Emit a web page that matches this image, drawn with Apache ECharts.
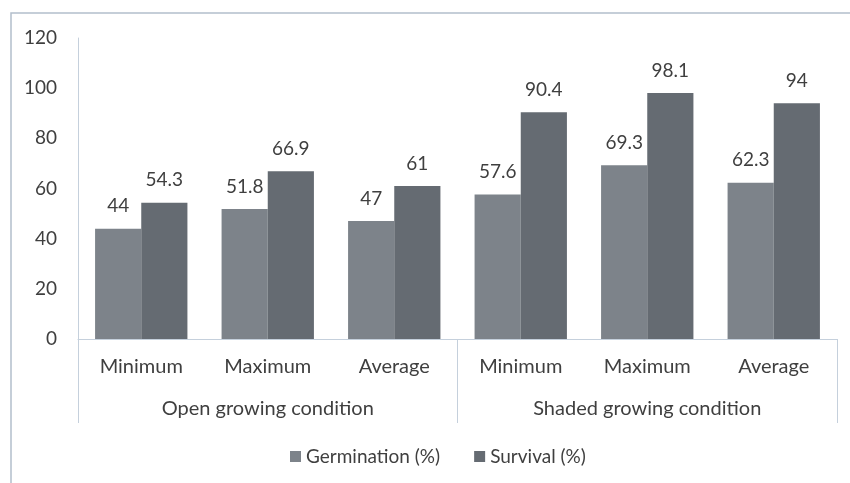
<!DOCTYPE html>
<html>
<head>
<meta charset="utf-8">
<style>
  html, body { margin: 0; padding: 0; background: #fff; }
  #chart { width: 850px; height: 483px; }
</style>
<script src="https://cdn.jsdelivr.net/npm/echarts@6/dist/echarts.min.js"></script>
</head>
<body>
<div id="chart"></div>
<script>
// Measurement labels and their growing-condition groups
const measures = ['Minimum', 'Maximum', 'Average', 'Minimum', 'Maximum', 'Average'];
const conditions = ['Open growing condition', 'Shaded growing condition'];

// Percentages per measure (open then shaded)
const germination = [44, 51.8, 47, 57.6, 69.3, 62.3];
const survival = [54.3, 66.9, 61, 90.4, 98.1, 94];

const yTicks = { min: 0, max: 120, interval: 20 };

const FONT = 'Lato';
const TEXT = '#3f3f3f';
const AXIS = '#c5d0dc';

const chart = echarts.init(document.getElementById('chart'), null, { renderer: 'canvas' });

const barLabel = {
  show: true,
  position: 'top',
  distance: 13,
  fontFamily: FONT,
  fontSize: 19,
  color: TEXT
};

chart.setOption({
  animation: false,
  backgroundColor: '#ffffff',
  graphic: [{
    type: 'rect',
    shape: { x: 11, y: 13, width: 900, height: 520 },
    style: { fill: 'none', stroke: '#b3bfcc', lineWidth: 1.5 },
    silent: true
  }],
  grid: { left: 78, right: 13, top: 38, bottom: 144, containLabel: false },
  legend: {
    top: 442,
    left: 285,
    itemWidth: 11,
    itemHeight: 11,
    itemGap: 34,
    icon: 'rect',
    textStyle: { fontFamily: FONT, fontSize: 19, color: TEXT },
    data: ['Germination (%)', 'Survival (%)']
  },
  xAxis: [{
    type: 'category',
    data: measures,
    position: 'bottom',
    axisLine: { show: true, lineStyle: { color: AXIS, width: 1 } },
    axisTick: { show: false },
    axisLabel: { margin: 18, fontFamily: FONT, fontSize: 20, color: TEXT, interval: 0 }
  }, {
    type: 'category',
    data: conditions,
    position: 'bottom',
    axisLine: { show: false },
    axisTick: { show: true, length: 84, lineStyle: { color: AXIS, width: 1 } },
    axisLabel: { margin: 60, fontFamily: FONT, fontSize: 20, color: TEXT, interval: 0 }
  }],
  yAxis: {
    type: 'value',
    min: yTicks.min,
    max: yTicks.max,
    interval: yTicks.interval,
    axisLine: { show: true, lineStyle: { color: AXIS, width: 1 } },
    axisTick: { show: false },
    splitLine: { show: false },
    axisLabel: { margin: 21, fontFamily: FONT, fontSize: 19, color: TEXT }
  },
  series: [{
    name: 'Germination (%)',
    type: 'bar',
    xAxisIndex: 0,
    data: germination,
    barGap: '0%',
    barCategoryGap: '27%',
    itemStyle: { color: '#7d838a' },
    label: barLabel
  }, {
    name: 'Survival (%)',
    type: 'bar',
    xAxisIndex: 0,
    data: survival,
    itemStyle: { color: '#656b72' },
    label: barLabel
  }]
});
</script>
</body>
</html>
